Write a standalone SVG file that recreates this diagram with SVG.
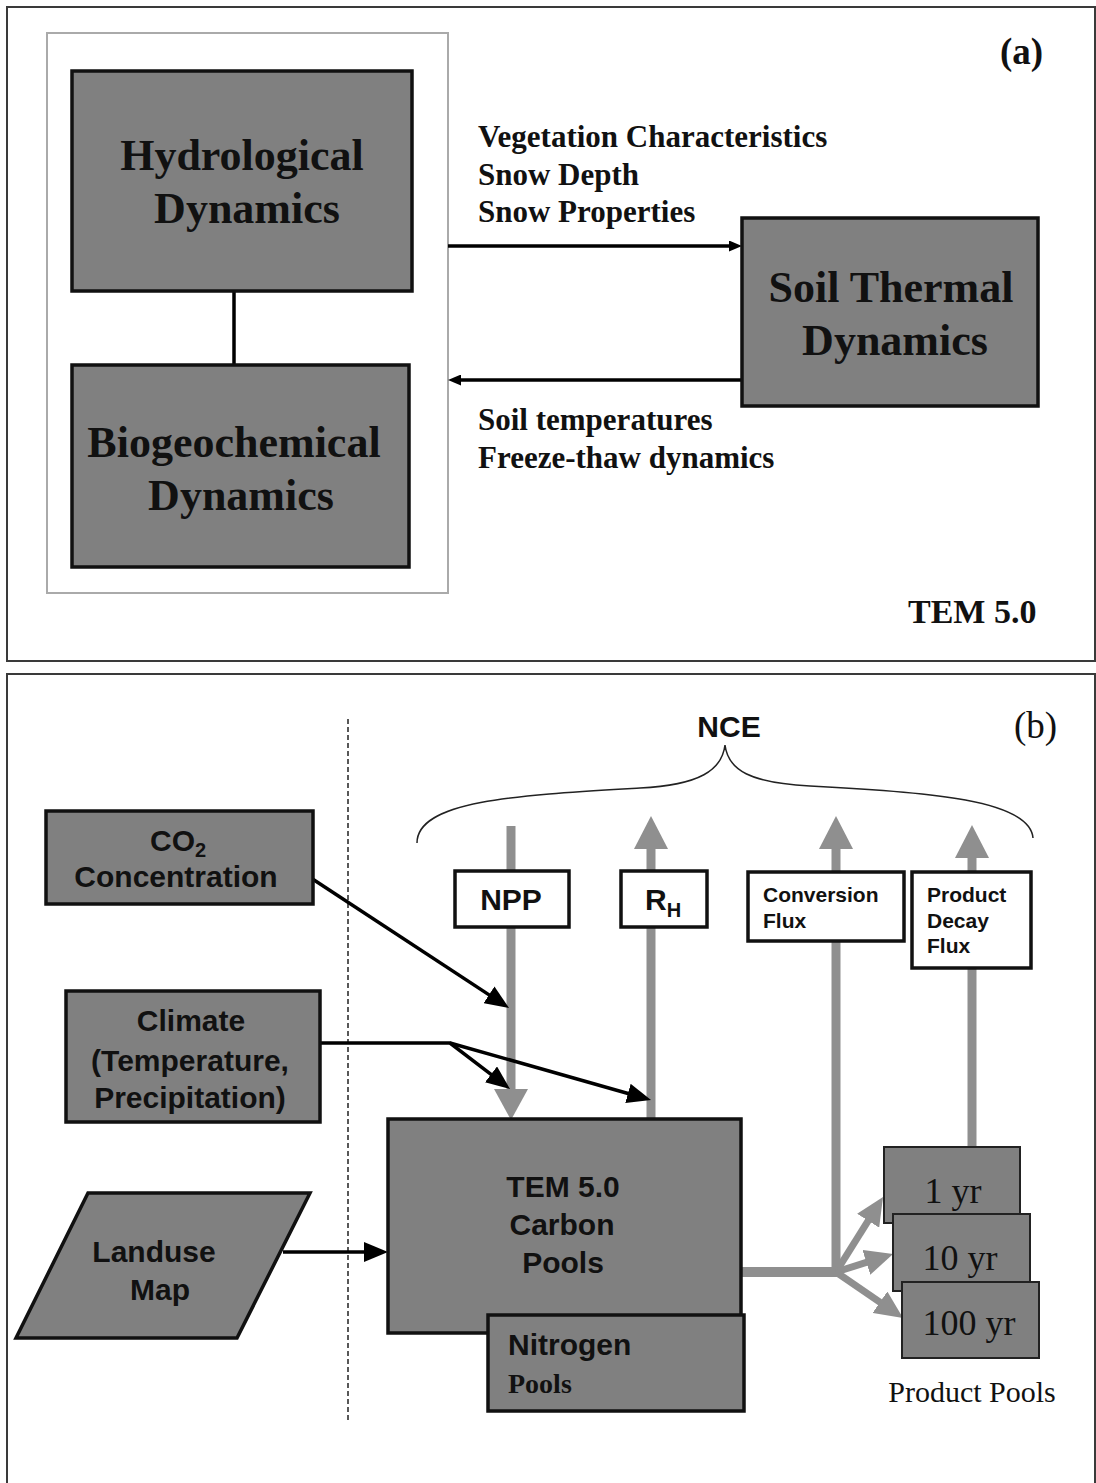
<svg xmlns="http://www.w3.org/2000/svg" width="1096" height="1483" viewBox="0 0 1096 1483">
<style>
.panel{fill:#fff;stroke:#3a3a3a;stroke-width:2}
.box{fill:#808080;stroke:#111;stroke-width:3.5}
.pbox{fill:#808080;stroke:#222;stroke-width:2}
.wbox{fill:#fff;stroke:#111;stroke-width:3.5}
.serifB{font-family:"Liberation Serif","Times New Roman",serif;font-weight:bold;fill:#111}
.serif{font-family:"Liberation Serif","Times New Roman",serif;fill:#111}
.sansB{font-family:"Liberation Sans",Arial,sans-serif;font-weight:bold;fill:#111}
.blk{stroke:#000;stroke-width:3.5;fill:none}
.gry{stroke:#8f8f8f;fill:none}
.ghead{fill:#8f8f8f}
</style>
<defs>
<marker id="smallHead" markerUnits="userSpaceOnUse" markerWidth="13" markerHeight="11" refX="6" refY="5.5" orient="auto"><path d="M0,0 L13,5.5 L0,11 z" fill="#000"/></marker>
<marker id="blackHead" markerUnits="userSpaceOnUse" markerWidth="24" markerHeight="20" refX="12" refY="10" orient="auto"><path d="M0,0 L24,10 L0,20 z" fill="#000"/></marker>
<marker id="grayHead" markerUnits="userSpaceOnUse" markerWidth="28" markerHeight="26" refX="14" refY="13" orient="auto"><path d="M0,0 L28,13 L0,26 z" fill="#8f8f8f"/></marker>
</defs>
<rect width="1096" height="1483" fill="#fff"/>

<!-- Panel (a) -->
<g id="panel-a">
<rect class="panel" x="7" y="7" width="1088" height="654"/>
<rect x="47" y="33" width="401" height="560" fill="#fff" stroke="#aaa" stroke-width="2"/>
<text class="serifB" x="1000" y="64" font-size="37">(a)</text>
<text class="serifB" x="908" y="623" font-size="34">TEM 5.0</text>
</g>

<!-- Panel (b) -->
<g id="panel-b">
<rect class="panel" x="7" y="674" width="1088" height="830"/>
<line x1="348" y1="719" x2="348" y2="1420" stroke="#222" stroke-width="1.5" stroke-dasharray="5,3"/>
<path d="M417,843 C417,800 520,795 640,788 C700,785 722,770 725,745 C728,770 750,783 810,786 C930,792 1030,800 1033,838" fill="none" stroke="#222" stroke-width="1.5"/>
<text class="sansB" x="729" y="737" font-size="30" text-anchor="middle">NCE</text>
<text class="serif" x="1014" y="738" font-size="37">(b)</text>
</g>

<!-- Connectors -->
<g id="connectors">
<!-- panel a -->
<line class="blk" x1="234" y1="291" x2="234" y2="365" stroke-width="3"/>
<line class="blk" x1="448" y1="246" x2="735" y2="246" stroke-width="3" marker-end="url(#smallHead)"/>
<line class="blk" x1="742" y1="380" x2="455" y2="380" stroke-width="3" marker-end="url(#smallHead)"/>
<!-- gray flux lines -->
<line class="gry" x1="511" y1="826" x2="511" y2="1092" stroke-width="9"/>
<polygon class="ghead" points="494,1089 528,1089 511,1120"/>
<line class="gry" x1="651" y1="1119" x2="651" y2="846" stroke-width="9"/>
<polygon class="ghead" points="634,849 668,849 651,816"/>
<line class="gry" x1="836" y1="1276" x2="836" y2="846" stroke-width="9"/>
<polygon class="ghead" points="819,849 853,849 836,816"/>
<line class="gry" x1="972" y1="1148" x2="972" y2="855" stroke-width="9"/>
<polygon class="ghead" points="955,858 989,858 972,825"/>
<line class="gry" x1="741" y1="1272" x2="838" y2="1272" stroke-width="10"/>
<line class="gry" x1="836" y1="1272" x2="875.6" y2="1208.9" stroke-width="7" marker-end="url(#grayHead)"/>
<line class="gry" x1="836" y1="1272" x2="879.7" y2="1258.2" stroke-width="7" marker-end="url(#grayHead)"/>
<line class="gry" x1="836" y1="1272" x2="891.5" y2="1310.1" stroke-width="7" marker-end="url(#grayHead)"/>
<!-- black driver arrows -->
<line class="blk" x1="311" y1="878" x2="499" y2="1001.4" marker-end="url(#blackHead)"/>
<polyline class="blk" points="320,1043 450,1043 500.5,1081.7" marker-end="url(#blackHead)"/>
<line class="blk" x1="450" y1="1043" x2="639.5" y2="1096.7" marker-end="url(#blackHead)"/>
<line class="blk" x1="283" y1="1252" x2="376" y2="1252" marker-end="url(#blackHead)"/>
</g>

<!-- Panel (a) nodes -->
<g id="hydrological">
<rect class="box" x="72" y="71" width="340" height="220"/>
<text class="serifB" font-size="44" text-anchor="middle"><tspan x="242" y="170">Hydrological</tspan><tspan x="247" y="223">Dynamics</tspan></text>
</g>
<g id="biogeochemical">
<rect class="box" x="72" y="365" width="337" height="202"/>
<text class="serifB" font-size="44" text-anchor="middle"><tspan x="234" y="457">Biogeochemical</tspan><tspan x="241" y="510">Dynamics</tspan></text>
</g>
<g id="soil-thermal">
<rect class="box" x="742" y="218" width="296" height="188"/>
<text class="serifB" font-size="44" text-anchor="middle"><tspan x="891" y="302">Soil Thermal</tspan><tspan x="895" y="355">Dynamics</tspan></text>
</g>
<g id="labels-a">
<text class="serifB" font-size="31"><tspan x="478" y="147">Vegetation Characteristics</tspan><tspan x="478" y="185">Snow Depth</tspan><tspan x="478" y="222">Snow Properties</tspan></text>
<text class="serifB" font-size="31"><tspan x="478" y="430">Soil temperatures</tspan><tspan x="478" y="468">Freeze-thaw dynamics</tspan></text>
</g>

<!-- Panel (b) nodes -->
<g id="co2">
<rect class="box" x="46" y="811" width="267" height="93"/>
<text class="sansB" font-size="30" x="150" y="851">CO<tspan font-size="20" dy="6">2</tspan></text>
<text class="sansB" font-size="30" x="176" y="887" text-anchor="middle">Concentration</text>
</g>
<g id="climate">
<rect class="box" x="66" y="991" width="254" height="131"/>
<text class="sansB" font-size="30" text-anchor="middle"><tspan x="191" y="1031">Climate</tspan><tspan x="190" y="1071">(Temperature,</tspan><tspan x="190" y="1108">Precipitation)</tspan></text>
</g>
<g id="landuse">
<polygon class="box" points="88,1193 310,1193 237,1338 16,1338"/>
<text class="sansB" font-size="30" text-anchor="middle"><tspan x="154" y="1262">Landuse</tspan><tspan x="160" y="1300">Map</tspan></text>
</g>
<g id="carbon-pools">
<rect class="box" x="388" y="1119" width="353" height="214"/>
<text class="sansB" font-size="30" text-anchor="middle"><tspan x="563" y="1197">TEM 5.0</tspan><tspan x="562" y="1235">Carbon</tspan><tspan x="563" y="1273">Pools</tspan></text>
</g>
<g id="nitrogen-pools">
<rect class="box" x="488" y="1315" width="256" height="96"/>
<text class="sansB" font-size="30" x="508" y="1355">Nitrogen</text>
<text class="serifB" font-size="28" x="508" y="1393">Pools</text>
</g>
<g id="npp">
<rect class="wbox" x="455" y="871" width="114" height="56"/>
<text class="sansB" font-size="30" x="511" y="910" text-anchor="middle">NPP</text>
</g>
<g id="rh">
<rect class="wbox" x="621" y="871" width="86" height="56"/>
<text class="sansB" font-size="30" x="645" y="910">R<tspan font-size="20" dy="7">H</tspan></text>
</g>
<g id="conversion-flux">
<rect class="wbox" x="748" y="872" width="156" height="69"/>
<text class="sansB" font-size="21"><tspan x="763" y="902">Conversion</tspan><tspan x="763" y="928">Flux</tspan></text>
</g>
<g id="product-decay-flux">
<rect class="wbox" x="912" y="872" width="119" height="96"/>
<text class="sansB" font-size="21"><tspan x="927" y="902">Product</tspan><tspan x="927" y="928">Decay</tspan><tspan x="927" y="953">Flux</tspan></text>
</g>
<g id="pool-1yr">
<rect class="pbox" x="884" y="1147" width="136" height="76"/>
<text class="serif" font-size="36" x="953" y="1203" text-anchor="middle">1 yr</text>
</g>
<g id="pool-10yr">
<rect class="pbox" x="893" y="1214" width="137" height="77"/>
<text class="serif" font-size="36" x="960" y="1270" text-anchor="middle">10 yr</text>
</g>
<g id="pool-100yr">
<rect class="pbox" x="902" y="1282" width="137" height="76"/>
<text class="serif" font-size="36" x="969" y="1335" text-anchor="middle">100 yr</text>
</g>
<text class="serif" font-size="30" x="972" y="1402" text-anchor="middle">Product Pools</text>
</svg>
